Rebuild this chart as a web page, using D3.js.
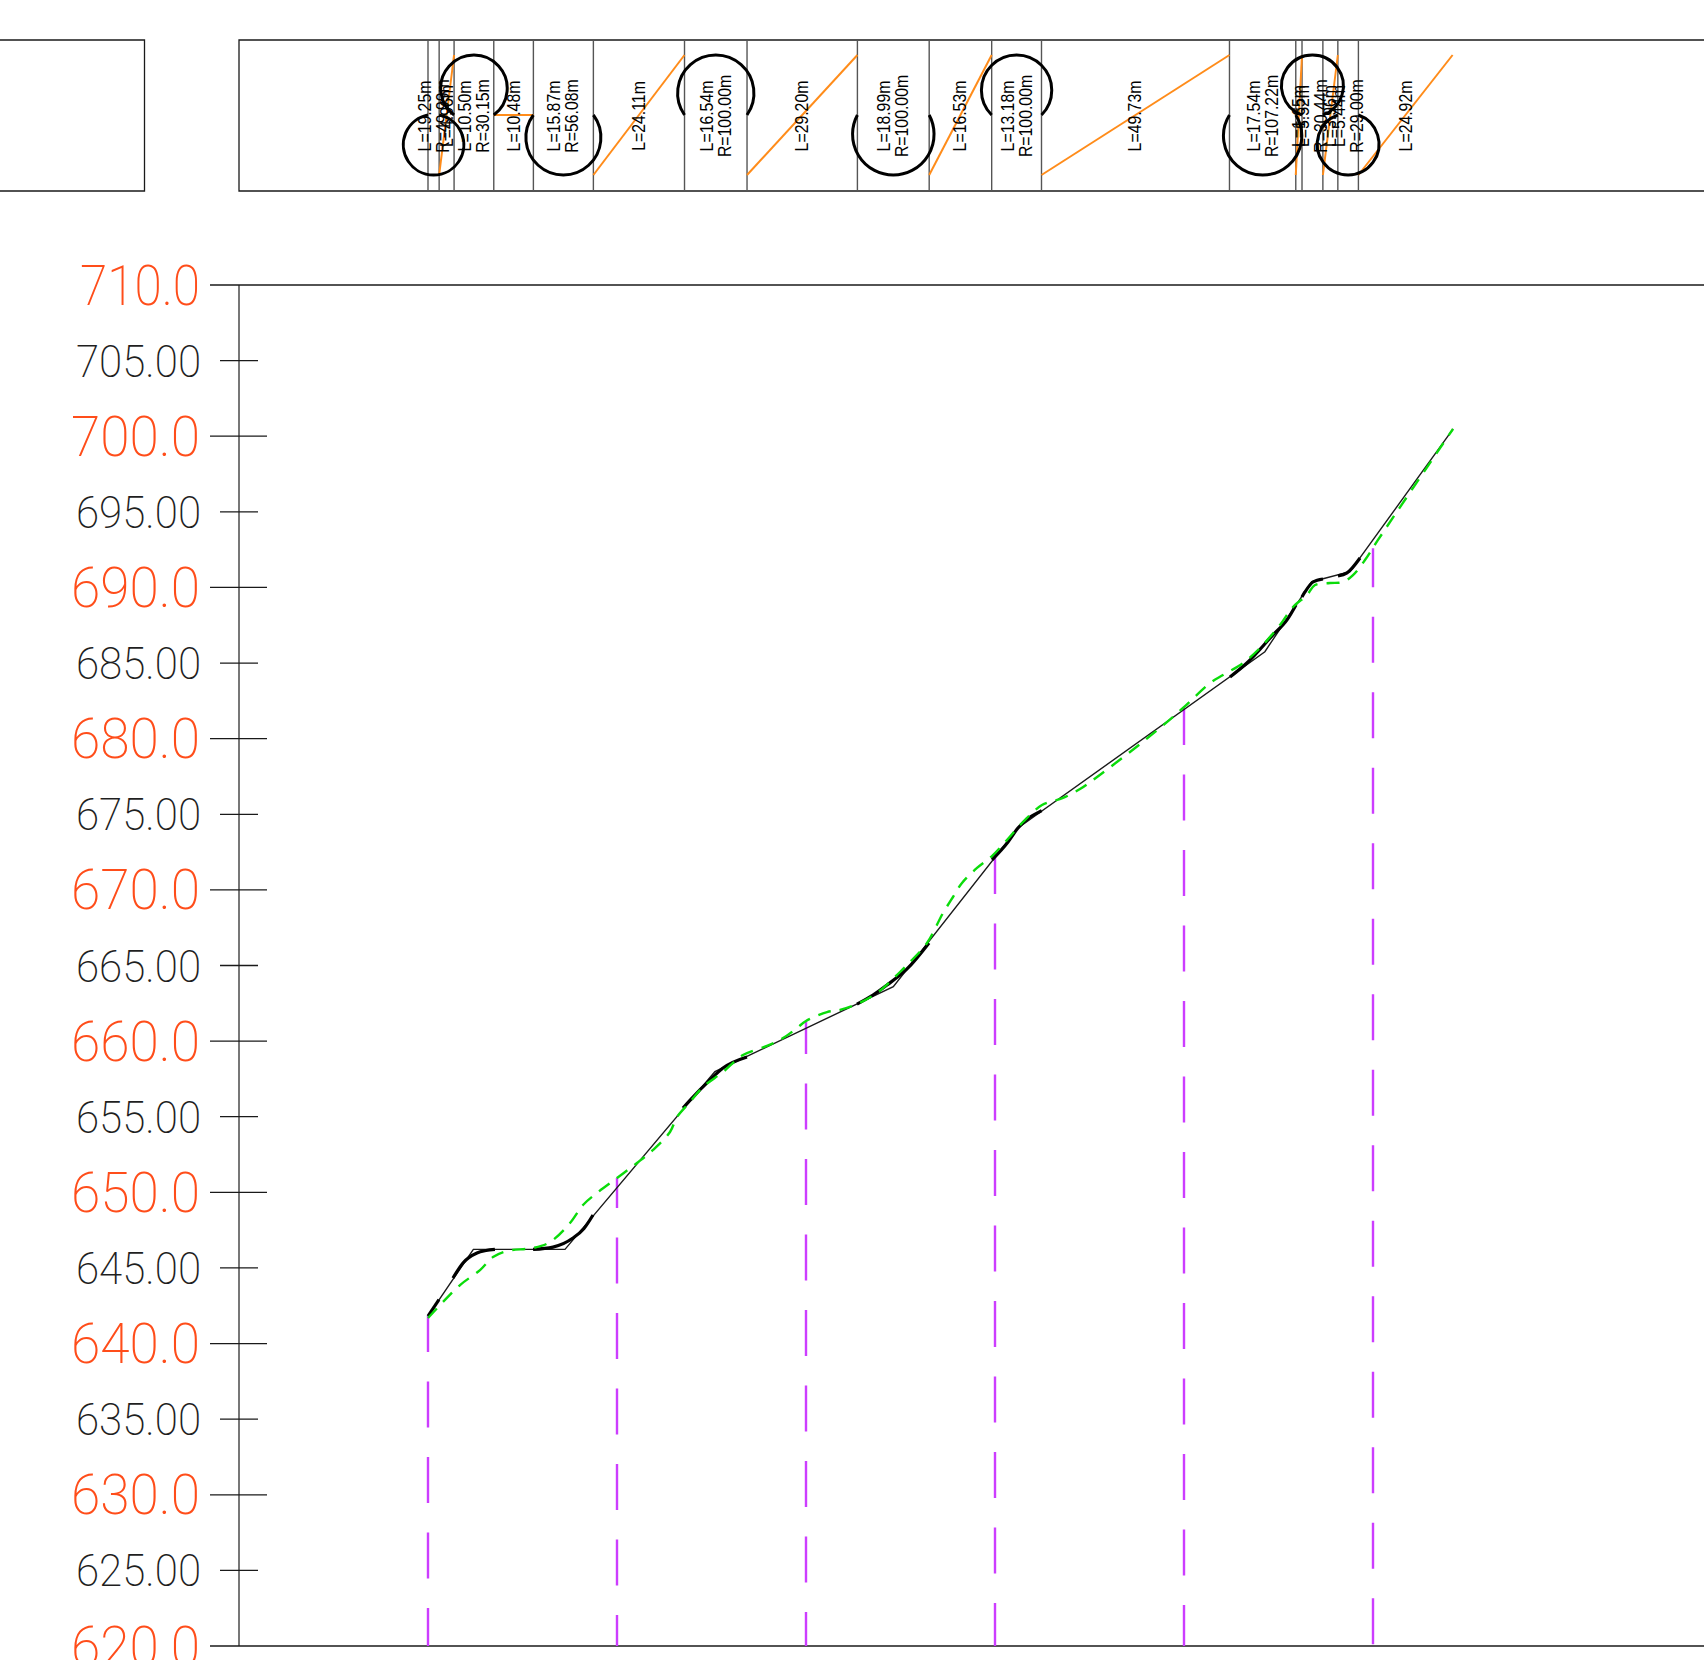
<!DOCTYPE html>
<html><head><meta charset="utf-8">
<style>html,body{margin:0;padding:0;background:#fff;overflow:hidden}svg{display:block}</style>
<script src="https://cdn.jsdelivr.net/npm/d3@7/dist/d3.min.js"></script>
</head><body><svg id="c" width="1704" height="1660"></svg>
<script>
// ---- data (stations in metres, elevations in metres) ----
const majorTicks = [710,700,690,680,670,660,650,640,630,620];
const minorTicks = [705,695,685,675,665,655,645,635,625];
const planKinds = ["down","up","top","flat","down","up","top","up","down","up","top","up","down","up","top","up","down","up"];
const planLengths = [2.95,3.95,10.50,10.48,15.87,24.11,16.54,29.20,18.99,16.53,13.18,49.73,17.54,1.65,5.52,3.96,5.44,24.92];
const lengthLabels = ["L=19.25m","L=4.96m","L=10.50m","L=10.48m","L=15.87m","L=24.11m","L=16.54m","L=29.20m","L=18.99m","L=16.53m","L=13.18m","L=49.73m","L=17.54m","L=1.65m","L=5.52m","L=3.96m","L=5.44m","L=24.92m"];
const radiusLabels = ["R=49.99m","","R=30.15m","","R=56.08m","","R=100.00m","","R=100.00m","","R=100.00m","","R=107.22m","","R=30.44m","","R=29.00m",""];
const designStations = [0,12.0,36.24,75.9,123.1,156.1,221.4,233.8,243.9,271.2];
const designElevations = [641.82,646.23,646.23,657.98,663.60,674.09,685.75,690.38,691.04,700.48];
const curveStations = [
 [0,2.9],
 [6.6,9.26,12.96,15.34,17.7],
 [27.8,33.07,38.36,41.27,43.65],
 [67.46,70.1,74.07,78.04,84.39],
 [113.49,117.72,121.43,126.72,132.54],
 [149.2,153.44,156.08,162.35],
 [212.17,216.93,223.54,227.25,229.63],
 [231.2,232.0,234.13,236.77],
 [240.74,243.12,246.56]];
const curveElevations = [
 [641.82,642.90],
 [644.33,645.33,645.99,646.15,646.23],
 [646.23,646.38,646.98,647.61,648.50],
 [655.58,656.30,657.30,658.22,658.95],
 [662.45,663.05,663.71,664.77,666.49],
 [671.98,673.17,674.09,675.24],
 [684.08,685.07,686.86,687.85,688.84],
 [689.37,689.70,690.36,690.56],
 [690.76,690.96,691.95]];
const groundStations = [0,3.97,8.47,13.76,17.2,20.9,27.78,32.28,37.57,41.0,44.71,50,55.29,59.52,64.02,65.87,69.31,72.75,78.04,83.33,89.68,93.92,97.62,100,105.56,109.0,113.49,118.78,124.87,127.51,132.01,136.24,138.89,141.27,145.24,149.2,153.17,157.41,162.43,167.99,172.49,175.93,185.71,193.65,199.74,206.88,210.32,215.61,220.11,225.4,228.84,232.54,234.66,238.62,242.06,244.71,247.88,251.32,271.16];
const groundElevations = [641.69,642.75,643.87,644.86,645.72,646.12,646.32,646.71,647.97,649.16,649.96,650.95,651.94,652.80,653.99,654.98,655.97,656.97,657.96,659.08,659.68,660.20,660.87,661.33,661.92,662.06,662.45,663.18,664.57,665.23,666.49,668.47,669.53,670.46,671.45,672.24,673.30,674.49,675.61,676.08,676.67,677.27,679.12,680.71,682.03,683.68,684.21,685.0,686.0,687.52,688.71,689.50,690.16,690.29,690.36,690.82,691.81,693.14,700.48];
const stemStations = [0,50,100,150,200,250];
const stemElevations = [641.82,650.95,661.33,672.44,682.03,692.60];
const stemDashOffsets = [10,16,13,5,9,7];

// ---- scales ----
const x = d3.scaleLinear().domain([0,50]).range([428,617]);
const y = d3.scaleLinear().domain([620,710]).range([1646,285]);
const planY = d3.scaleLinear().domain([-1,1]).range([175,55]);
const svg = d3.select("#c");
const INK="#1a1a1a", GRAY="#555", ORANGE="#ff8c1a", GREEN="#0adc0a", PURPLE="#cc3dff", RED="#ff4d1a";
const FONT="Roboto, Lato, sans-serif";

// ---- plan strip ----
const planTop=40, planBottom=191;
const strip = svg.append("g");
strip.append("path").attr("d",`M0,${planTop}H144.5V${planBottom}H0`).attr("fill","none").attr("stroke",INK).attr("stroke-width",1.3);
strip.append("path").attr("d",`M1704,${planTop}H239V${planBottom}H1704`).attr("fill","none").attr("stroke",INK).attr("stroke-width",1.3);

const starts = [0]; planLengths.forEach(l=>starts.push(starts[starts.length-1]+l));
const segs = planKinds.map((k,i)=>({k,s0:starts[i],s1:starts[i+1],L:lengthLabels[i],R:radiusLabels[i]}));

strip.selectAll("line.sep").data(starts.slice(0,-1)).join("line").attr("class","sep")
 .attr("x1",d=>x(d)).attr("x2",d=>x(d)).attr("y1",planTop).attr("y2",planBottom)
 .attr("stroke",GRAY).attr("stroke-width",1.4);

strip.selectAll("line.tan").data(segs.filter(s=>s.k==="up"||s.k==="flat")).join("line").attr("class","tan")
 .attr("x1",d=>x(d.s0)).attr("x2",d=>x(d.s1))
 .attr("y1",d=>planY(d.k==="up"?-1:0)).attr("y2",d=>planY(d.k==="up"?1:0))
 .attr("stroke",ORANGE).attr("stroke-width",2);

strip.selectAll("path.arc").data(segs.filter(s=>s.k==="top"||s.k==="down")).join("path").attr("class","arc")
 .attr("d",d=>{
   const a=x(d.s0),b=x(d.s1),c=(b-a)/2,h=Math.abs(planY(1)-planY(0)),r=(c*c+h*h)/(2*h);
   return `M${a},${planY(0)}A${r},${r} 0 1 ${d.k==="top"?1:0} ${b},${planY(0)}`;
 }).attr("fill","none").attr("stroke","#000").attr("stroke-width",3);

function vlabel(sel,txt,off){
  sel.attr("transform",d=>`translate(${(x(d.s0)+x(d.s1))/2+off(d)},${planY(0)+1}) rotate(-90) scale(.88,1)`)
   .attr("text-anchor","middle").attr("font-family","'Liberation Sans Narrow','Liberation Sans',sans-serif")
   .attr("font-size",18).attr("fill","#000").text(txt);
}
strip.selectAll("text.L").data(segs).join("text").attr("class","L")
  .call(vlabel,d=>d.L,d=>(d.R?-9:0)+6);
strip.selectAll("text.R").data(segs.filter(s=>s.R)).join("text").attr("class","R")
  .call(vlabel,d=>d.R,()=>9+6);

// ---- axis ----
const ax = svg.append("g");
ax.append("line").attr("x1",239).attr("x2",239).attr("y1",y(710)).attr("y2",y(620)).attr("stroke",GRAY).attr("stroke-width",1.6);
[710,620].forEach(v=>ax.append("line").attr("x1",267).attr("x2",1704).attr("y1",y(v)).attr("y2",y(v)).attr("stroke",INK).attr("stroke-width",1.3));
ax.selectAll("line.maj").data(majorTicks).join("line").attr("class","maj")
 .attr("x1",210).attr("x2",267).attr("y1",d=>y(d)).attr("y2",d=>y(d)).attr("stroke",INK).attr("stroke-width",1.3);
ax.selectAll("line.min").data(minorTicks).join("line").attr("class","min")
 .attr("x1",220).attr("x2",258).attr("y1",d=>y(d)).attr("y2",d=>y(d)).attr("stroke",INK).attr("stroke-width",1.3);
ax.selectAll("text.maj").data(majorTicks).join("text").attr("class","maj")
 .attr("x",200).attr("y",d=>y(d)+19.5).attr("text-anchor","end")
 .attr("font-family",FONT).attr("font-weight",200).attr("font-size",56).attr("fill",RED)
 .attr("textLength",d=>d===710?120:129).attr("lengthAdjust","spacingAndGlyphs").text(d=>d.toFixed(1));
ax.selectAll("text.min").data(minorTicks).join("text").attr("class","min")
 .attr("x",201).attr("y",d=>y(d)+16).attr("text-anchor","end")
 .attr("font-family",FONT).attr("font-weight",200).attr("font-size",45).attr("fill","#1f1f1f")
 .attr("textLength",125).attr("lengthAdjust","spacingAndGlyphs").text(d=>d.toFixed(2));

// ---- stems ----
svg.append("g").selectAll("line").data(stemStations.map((s,i)=>[s,stemElevations[i],stemDashOffsets[i]])).join("line")
 .attr("x1",d=>x(d[0])).attr("x2",d=>x(d[0])).attr("y1",d=>y(d[1])).attr("y2",y(620))
 .attr("stroke",PURPLE).attr("stroke-width",2.4).attr("stroke-dasharray","46 29.5").attr("stroke-dashoffset",d=>d[2]);

// ---- profile ----
const straight = d3.line().x(d=>x(d[0])).y(d=>y(d[1]));
const smooth = d3.line().x(d=>x(d[0])).y(d=>y(d[1])).curve(d3.curveMonotoneX);
const ground = d3.line().x(d=>x(d[0])).y(d=>y(d[1])).curve(d3.curveCatmullRom.alpha(0.5));
svg.append("path").attr("d",straight(designStations.map((s,i)=>[s,designElevations[i]])))
 .attr("fill","none").attr("stroke",INK).attr("stroke-width",1.4);
svg.append("g").selectAll("path").data(curveStations.map((ss,i)=>ss.map((s,j)=>[s,curveElevations[i][j]]))).join("path")
 .attr("d",smooth).attr("fill","none").attr("stroke","#000").attr("stroke-width",3.2);
svg.append("path").attr("d",ground(groundStations.map((s,i)=>[s,groundElevations[i]])))
 .attr("fill","none").attr("stroke",GREEN).attr("stroke-width",2.4).attr("stroke-dasharray","13 9");
</script></body></html>
